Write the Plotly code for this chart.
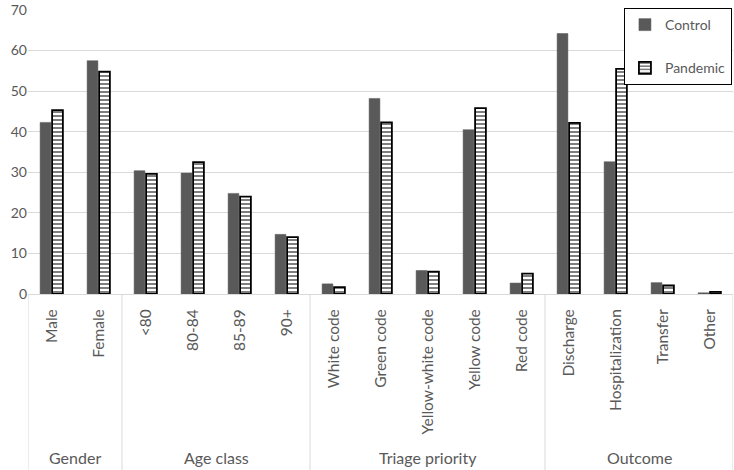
import plotly.graph_objects as go

categories = ["Male", "Female", "<80", "80-84", "85-89", "90+",
              "White code", "Green code", "Yellow-white code", "Yellow code", "Red code",
              "Discharge", "Hospitalization", "Transfer", "Other"]
groups = ["Gender", "Age class", "Triage priority", "Outcome"]
group_sizes = [2, 4, 5, 4]
control = [42.3, 57.5, 30.4, 29.8, 24.8, 14.7,
           2.5, 48.2, 5.8, 40.5, 2.7,
           64.2, 32.6, 2.8, 0.3]
pandemic = [45.3, 54.8, 29.6, 32.5, 24.0, 14.0,
            1.7, 42.3, 5.5, 45.8, 5.0,
            42.2, 55.5, 2.1, 0.5]
y_ticks = [0, 10, 20, 30, 40, 50, 60, 70]

FONT = "Lato"
GRAY = "#595959"
LIGHT = "#d9d9d9"

xs = list(range(len(categories)))

fig = go.Figure()
fig.add_trace(go.Bar(
    x=xs, y=control, name="Control", legendgroup="c",
    marker=dict(color=GRAY, line=dict(color=GRAY, width=0.5)),
))
fig.add_trace(go.Bar(
    x=xs, y=pandemic, name="Pandemic", legendgroup="p",
    marker=dict(color="white", line=dict(color="black", width=1.8),
                pattern=dict(shape="-", fgcolor="black", bgcolor="white",
                             size=4, solidity=0.5, fillmode="overlay")),
))

shapes = []
bounds = [-0.5]
for s in group_sizes:
    bounds.append(bounds[-1] + s)
for b in bounds:
    shapes.append(dict(type="line", xref="x", yref="paper", x0=b, x1=b,
                       y0=0, y1=-0.62, line=dict(color=LIGHT, width=1)))

annotations = []
for i, g in enumerate(groups):
    annotations.append(dict(x=(bounds[i] + bounds[i + 1]) / 2, y=-0.577,
                            xref="x", yref="paper", text=g, showarrow=False,
                            xanchor="center", yanchor="middle",
                            font=dict(family=FONT, size=16, color=GRAY)))

fig.update_layout(
    width=734, height=470,
    margin=dict(l=28, r=1, t=10, b=176),
    paper_bgcolor="white", plot_bgcolor="white",
    barmode="group", bargap=0.49, bargroupgap=0.1,
    font=dict(family=FONT, size=13, color=GRAY),
    shapes=shapes, annotations=annotations,
    legend=dict(x=0.9985, xanchor="right", y=1.007, yanchor="top",
                bordercolor="black", borderwidth=1, bgcolor="white",
                font=dict(family=FONT, size=14, color=GRAY),
                itemwidth=30,
                tracegroupgap=22, traceorder="grouped"),
    xaxis=dict(tickmode="array", tickvals=xs, ticktext=categories,
               tickangle=-90, range=[-0.5, len(categories) - 0.5],
               showline=True, linecolor=LIGHT, linewidth=1,
               showgrid=False, zeroline=False, ticks="",
               ticklabelstandoff=8,
               automargin=False,
               tickfont=dict(family=FONT, size=15.5, color=GRAY)),
    yaxis=dict(range=[0, 70], tickvals=y_ticks, showgrid=True,
               gridcolor=LIGHT, gridwidth=1, zeroline=False, showline=False,
               ticks="", automargin=False,
               tickfont=dict(family=FONT, size=14, color=GRAY)),
)

fig.write_html("out.html", config={"displayModeBar": False},
               post_script="document.body.style.margin='0';document.body.style.overflow='hidden';")
